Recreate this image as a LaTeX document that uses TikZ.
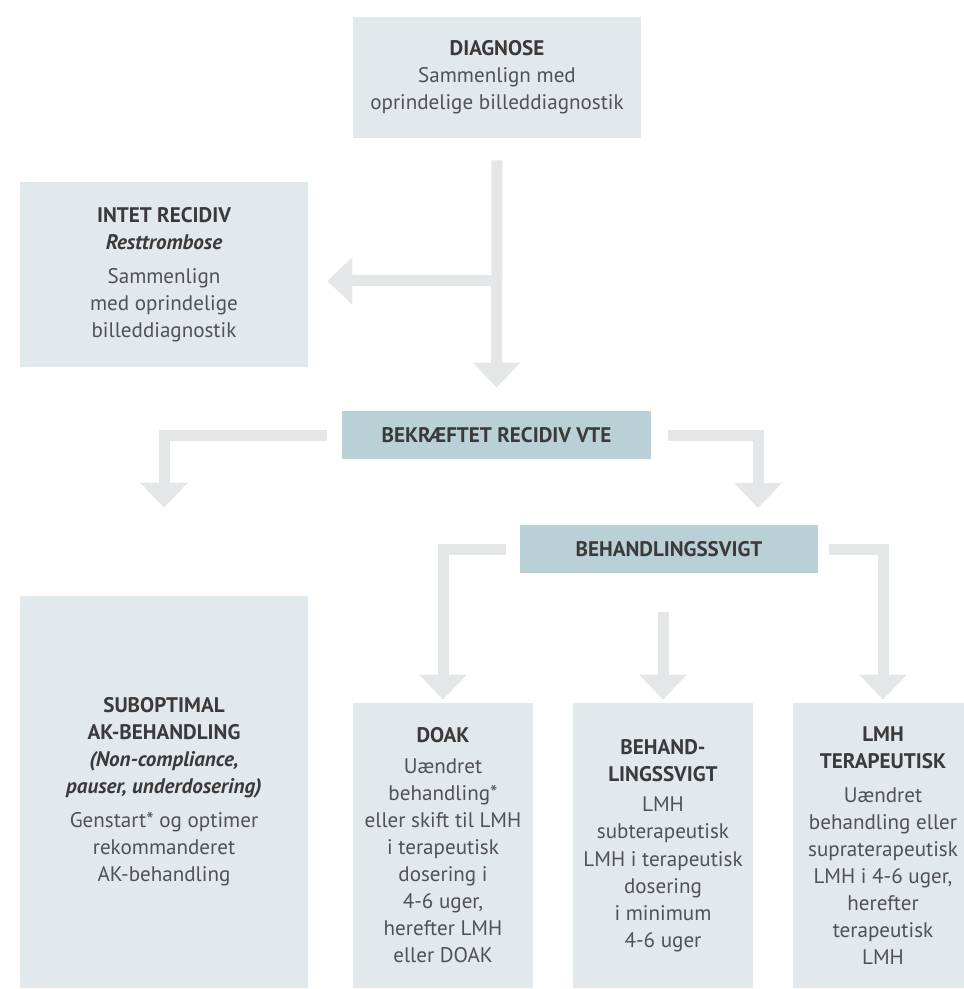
\documentclass[tikz,border=0pt]{standalone}
\usepackage{fontspec}
\setmainfont{PT Sans}
\usepackage{tikz}
\usetikzlibrary{arrows.meta,positioning,calc}
\definecolor{BoxLight}{RGB}{225,233,236}
\definecolor{BoxDark}{RGB}{185,208,214}
\definecolor{ArrowGrey}{RGB}{229,230,231}
\definecolor{HeadText}{RGB}{58,58,58}
\definecolor{BodyText}{RGB}{82,82,82}
\newcommand{\hd}[1]{{\color{HeadText}\bfseries #1}}
\newcommand{\hdi}[1]{{\color{HeadText}\bfseries\itshape #1}}
\begin{document}
\begin{tikzpicture}[x=0.02cm, y=-0.02cm,
    infobox/.style={rectangle, fill=BoxLight, inner sep=0pt,
                    align=center, text=BodyText,
                    font=\fontsize{12}{15.4}\selectfont},
    headbox/.style={rectangle, fill=BoxDark, inner sep=0pt,
                    minimum height=0.96cm, align=center, text=HeadText,
                    font=\fontsize{12}{15.4}\selectfont\bfseries},
    blk/.style={-{Triangle[width=0.92cm, length=0.5cm]}, line width=0.22cm,
                draw=ArrowGrey}
  ]
    \useasboundingbox (0,0) rectangle (963,989);

    \node[infobox, minimum width=5.76cm, minimum height=2.42cm] (diag) at (497,77.5)
      {\hd{DIAGNOSE}\\Sammenlign med\\oprindelige billeddiagnostik};
    \node[infobox, minimum width=5.76cm, minimum height=3.7cm] (intet) at (164,274.5)
      {\hd{INTET RECIDIV}\\\hdi{Resttrombose}\\[4pt]
       Sammenlign\\med oprindelige\\billeddiagnostik};

    \node[headbox, minimum width=6.18cm] (bekr) at (496.5,435) {BEKRÆFTET RECIDIV VTE};
    \node[headbox, minimum width=5.96cm] (behand) at (669,549) {BEHANDLINGSSVIGT};

    \node[infobox, minimum width=5.76cm, minimum height=7.84cm] (subopt) at (164,792)
      {\hd{SUBOPTIMAL}\\\hd{AK-BEHANDLING}\\\hdi{(Non-compliance,}\\\hdi{pauser, underdosering)}\\[4pt]
       Genstart* og optimer\\rekommanderet\\AK-behandling};
    \node[infobox, minimum width=3.6cm, minimum height=5.7cm] (doak) at (443,845.5)
      {\hd{DOAK}\\[2pt]Uændret\\behandling*\\eller skift til LMH\\i terapeutisk\\dosering i\\4-6 uger,\\herefter LMH\\eller DOAK};
    \node[infobox, minimum width=3.6cm, minimum height=5.7cm] (mid) at (663,845.5)
      {\hd{BEHAND-}\\\hd{LINGSSVIGT}\\[2pt]LMH\\subterapeutisk\\LMH i terapeutisk\\dosering\\i minimum\\4-6 uger};
    \node[infobox, minimum width=3.6cm, minimum height=5.7cm] (lmh) at (883,845.5)
      {\hd{LMH}\\\hd{TERAPEUTISK}\\[4pt]Uændret\\behandling eller\\supraterapeutisk\\LMH i 4-6 uger,\\herefter\\terapeutisk\\LMH};

    \coordinate (jn) at (497,281);
    \coordinate (rtip) at (758,525);

    \draw[blk, shorten <=0.44cm, shorten >=0.46cm] (diag.south) -- (bekr.north);
    \draw[blk, shorten >=0.38cm] (jn) -- (jn -| intet.east);
    \draw[blk, shorten <=0.3cm, shorten >=1.76cm] (bekr.west) -| (subopt.north);
    \draw[blk, shorten <=0.34cm, shorten >=0.34cm] (bekr.east) -| (rtip);
    \draw[blk, shorten <=0.28cm, shorten >=0.06cm] (behand.west) -| (doak.north);
    \draw[blk, shorten <=0.78cm, shorten >=0.06cm] (mid.north |- behand.south) -- (mid.north);
    \draw[blk, shorten <=0.22cm, shorten >=0.06cm] (behand.east) -| (lmh.north);
  \end{tikzpicture}
\end{document}
